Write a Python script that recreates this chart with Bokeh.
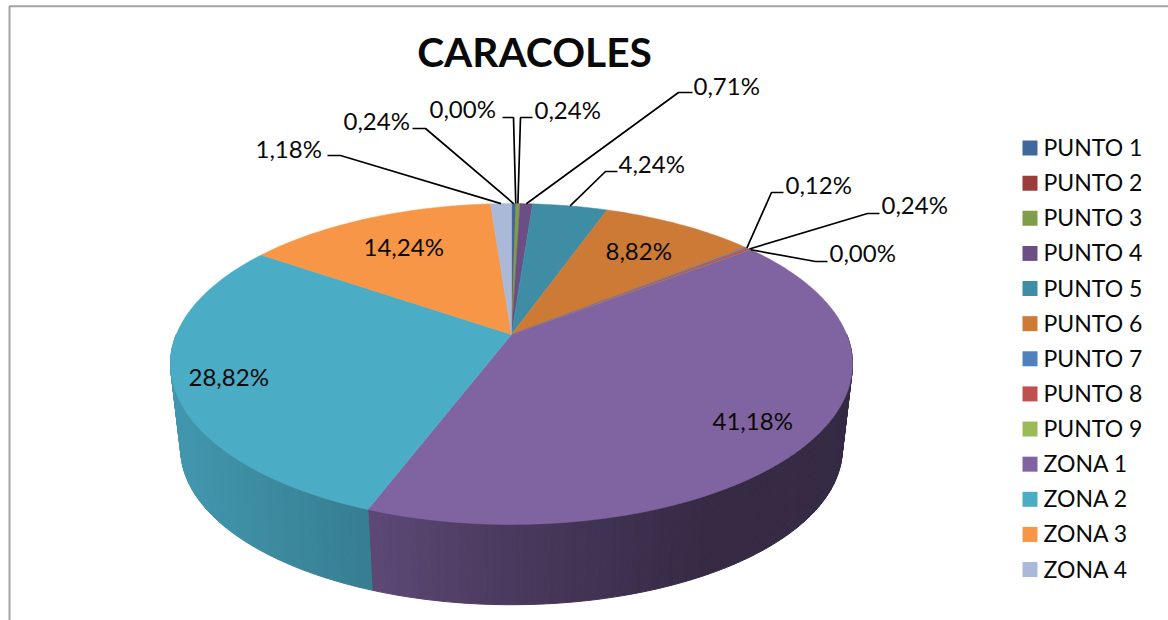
import numpy as np
from bokeh.plotting import figure
from bokeh.embed import file_html
from bokeh.resources import INLINE
from bokeh.core.properties import value
from bokeh.models import Range1d

# --- data
title = "CARACOLES"
categories = ["PUNTO 1", "PUNTO 2", "PUNTO 3", "PUNTO 4", "PUNTO 5", "PUNTO 6", "PUNTO 7",
              "PUNTO 8", "PUNTO 9", "ZONA 1", "ZONA 2", "ZONA 3", "ZONA 4"]
percent = [0.24, 0.00, 0.24, 0.71, 4.24, 8.82, 0.12, 0.24, 0.00, 41.18, 28.82, 14.24, 1.18]
colors = ["#3F689C", "#9B3D3B", "#7F9D4B", "#6B4E84", "#3E8DA5", "#CD7A37", "#4F81BD",
          "#C0504D", "#9BBB59", "#8064A2", "#4BACC6", "#F79646", "#AAB9D7"]

# --- label layout: (left x, centre y, elbow x, leader start x, leader y) per category
inside = {5: (605, 249.5), 9: (712, 419.5), 10: (188, 375.5), 11: (363, 245.5)}
outside = {0: (343, 119.5, 425, 412, 128), 1: (429, 107.5, 513, 502, 117),
           2: (534, 108.5, 520, 532, 117), 3: (693, 84.5, 678, 692, 92),
           4: (618, 162.5, 605, 617, 171), 6: (785, 183.5, 771, 783, 192),
           7: (881, 203.5, 867, 879, 213), 8: (829, 251.5, 815, 827, 261),
           12: (255, 147.5, 340, 327, 155)}

# --- projection of the tilted disc
CX, CY, A, B, K = 511.0, 334.0, 155.0, 335.2, 0.1838
S, CY2 = 0.97, 420.0
FONT = value("Lato")
LABEL_SIZE = "24px"


def top_pt(t):
    X, Y = np.sin(t), np.cos(t)
    w = 1 + K * Y
    return CX + B * X / w, CY - A * Y / w


def bot_pt(t):
    X, Y = np.sin(t), np.cos(t)
    w = 1 + K * Y
    return CX + S * B * X / w, CY2 - S * A * Y / w


def shade(col, x):
    f = np.interp(x, [175, 368, 511, 700, 850], [0.88, 0.73, 0.58, 0.43, 0.42])
    r, g, b = (int(col[i:i + 2], 16) for i in (1, 3, 5))
    return "#%02x%02x%02x" % (int(r * f), int(g * f), int(b * f))


p = figure(width=1168, height=620, output_backend="svg", toolbar_location=None,
           x_range=Range1d(0, 1168), y_range=Range1d(620, 0), min_border=0,
           margin=(0, 0, 0, 0), x_axis_location=None, y_axis_location=None,
           tools="", outline_line_color=None, background_fill_color="white")
p.grid.visible = False

# chart frame
p.line([9, 9, 1168], [620, 5.7, 5.7], line_color="#A3A3A3", line_width=2)

edges = np.concatenate([[0], np.cumsum(percent)]) / sum(percent) * 2 * np.pi
mids = (edges[:-1] + edges[1:]) / 2

# side wall
xs, ys, fc = [], [], []
vis0, vis1 = np.radians(90), np.radians(270)
for i, col in enumerate(colors):
    a0, a1 = max(edges[i], vis0), min(edges[i + 1], vis1)
    if a1 <= a0:
        continue
    steps = max(1, int(np.degrees(a1 - a0)))
    ts = np.linspace(a0, a1, steps + 1)
    for u, v in zip(ts[:-1], ts[1:]):
        tx0, ty0 = top_pt(u)
        tx1, ty1 = top_pt(v)
        bx0, by0 = bot_pt(u)
        bx1, by1 = bot_pt(v)
        xs.append([tx0, tx1, bx1, bx0])
        ys.append([ty0, ty1, by1, by0])
        fc.append(shade(col, (tx0 + tx1) / 2))
p.patches(xs, ys, fill_color=fc, line_color=fc, line_width=1)

# top face
xs, ys = [], []
for i in range(len(percent)):
    n = max(2, int(np.degrees(edges[i + 1] - edges[i])) + 2)
    px, py = top_pt(np.linspace(edges[i], edges[i + 1], n))
    xs.append([CX, *px])
    ys.append([CY, *py])
p.patches(xs, ys, fill_color=colors, line_color=colors, line_width=0.5)


def pct(v):
    return f"{v:.2f}%".replace(".", ",")


# leaders and labels
for i, (tx, ty, ex, sx, ly) in outside.items():
    ax, ay = top_pt(mids[i])
    p.line([sx, ex, ax], [ly, ly, ay], line_color="black", line_width=1.7)
    p.text([tx], [ty], text=[pct(percent[i])], text_font=FONT, text_font_size=LABEL_SIZE,
           text_baseline="middle", text_align="left", text_color="#0a0a0a")
for i, (tx, ty) in inside.items():
    p.text([tx], [ty], text=[pct(percent[i])], text_font=FONT, text_font_size=LABEL_SIZE,
           text_baseline="middle", text_align="left", text_color="#0a0a0a")

# title
p.text([534], [50.5], text=[title], text_font=FONT, text_font_size="40.7px", text_font_style="bold",
       text_align="center", text_baseline="middle", text_color="#0a0a0a")

# legend
leg_y = 147.5 + 35.13 * np.arange(len(categories))
p.rect([1029.5] * len(categories), leg_y, width=15, height=15, fill_color=colors, line_color=None)
p.text([1043] * len(categories), leg_y - 1, text=categories, text_font=FONT, text_font_size="23px",
       text_baseline="middle", text_align="left", text_color="#0a0a0a")

open("out.html", "w").write(file_html(p, INLINE))
